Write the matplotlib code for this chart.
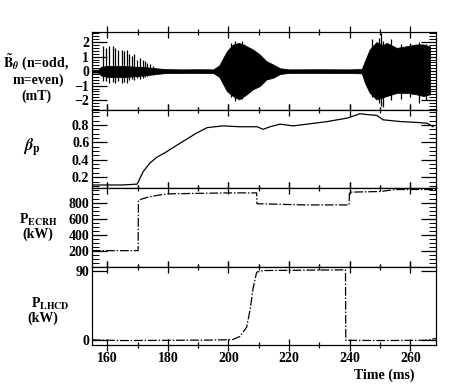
import numpy as np
import matplotlib
matplotlib.use("Agg")
import matplotlib.pyplot as plt
from matplotlib.ticker import MultipleLocator

plt.rcParams['font.family'] = ['Liberation Serif', 'DejaVu Serif']
plt.rcParams['font.weight'] = 'bold'
plt.rcParams['mathtext.fontset'] = 'stix'

# --- B_theta : envelope of the MHD signal (mT)
b_t = [155, 157, 158, 160, 163, 166, 169, 172, 175, 177, 179, 185, 190, 195,
       197, 198, 199.5, 201.5, 203.5, 206, 208, 210.3, 212.5, 214.7, 217, 220,
       230, 240, 244, 245, 246.6, 248.8, 251, 252.2, 255.5, 258.8, 262, 264.3, 266.5]
b_up = [0.1, 0.1, 0.3, 0.35, 0.35, 0.35, 0.3, 0.28, 0.22, 0.18, 0.14, 0.12, 0.13, 0.12,
        0.4, 0.8, 1.38, 1.84, 1.95, 1.72, 1.5, 1.15, 0.69, 0.46, 0.2, 0.12,
        0.13, 0.12, 0.15, 0.69, 1.5, 2.0, 1.8, 1.95, 1.6, 1.72, 1.84, 1.84, 1.7]
b_lo = [-0.1, -0.1, -0.3, -0.4, -0.4, -0.4, -0.35, -0.3, -0.22, -0.18, -0.14, -0.12, -0.12, -0.13,
        -0.4, -0.8, -1.38, -1.72, -1.95, -1.6, -1.26, -1.03, -0.57, -0.46, -0.2, -0.12,
        -0.12, -0.13, -0.15, -0.8, -1.5, -1.95, -1.8, -1.72, -1.5, -1.5, -1.6, -1.72, -1.6]
# isolated spikes (time, top, bottom)
spk_t = [158.5, 159.6, 160.7, 161.8, 162.6, 163.7, 164.8, 165.7, 166.4, 167.3,
         168.1, 168.9, 169.8, 170.8, 171.7, 172.5, 173.2, 174.1, 175.2,
         201.0, 202.2, 204.4, 205.2, 247.5, 249.5, 250.2, 251.0, 253.5, 257.0, 260.0, 263.0, 265.0]
spk_top = [1.72, 1.61, 1.72, 1.72, 1.6, 1.49, 1.45, 1.38, 1.49, 1.15,
           1.03, 1.15, 0.8, 0.92, 0.8, 0.69, 0.57, 0.46, 0.34,
           1.95, 2.05, 2.1, 1.85, 2.2, 2.3, 2.65, 2.1, 2.2, 1.9, 1.95, 2.0, 1.9]
spk_bot = [-0.69, -0.7, -0.8, -0.75, -0.8, -0.7, -0.8, -0.75, -0.8, -0.6,
           -0.57, -0.6, -0.5, -0.57, -0.45, -0.4, -0.34, -0.3, -0.25,
           -1.8, -2.05, -1.9, -1.7, -1.8, -2.2, -2.4, -2.45, -2.0, -1.9, -1.8, -2.2, -2.0]

# --- beta_p
bp_t = [155, 160, 165, 169.9, 171.8, 174, 176.4, 179, 184, 189.6, 193, 198.2, 203.8,
        209.5, 211.4, 213.7, 217, 221.3, 226, 232.6, 239.2, 243.4, 245.8, 249, 251,
        256.6, 262, 265.6, 267.5]
bp = [0.11, 0.11, 0.11, 0.12, 0.26, 0.36, 0.43, 0.48, 0.59, 0.71, 0.77, 0.79, 0.78,
      0.78, 0.75, 0.78, 0.81, 0.79, 0.81, 0.84, 0.88, 0.93, 0.92, 0.91, 0.86,
      0.84, 0.83, 0.82, 0.78]

# --- ECRH power (kW)
ec_t = [155, 170.2, 170.3, 171.5, 173.5, 176.4, 180, 200, 209.3, 209.4, 225, 239.8, 239.9, 250, 255, 268.5]
ec = [200, 200, 825, 845, 866, 888, 908, 920, 920, 785, 770, 770, 929, 937, 962, 962]

# --- LHCD power (kW)
lh_t = [155, 165, 180, 195, 201.5, 203.8, 206, 207.1, 208.2, 209.3, 211.4, 225, 238.6, 238.7, 250, 265, 268.5]
lh = [0, -0.8, -0.5, -0.2, 0.5, 4.6, 16.5, 38.6, 68.6, 87.9, 90, 90.5, 90.9, -0.5, -0.8, -0.5, 2]

fig, axes = plt.subplots(4, 1, sharex=True, figsize=(4.72, 3.88), dpi=100,
                         gridspec_kw=dict(hspace=0, left=0.195, right=0.924,
                                          top=0.9175, bottom=0.111))
a1, a2, a3, a4 = axes

a1.fill_between(b_t, b_lo, b_up, color='k', lw=0.6)
a1.vlines(spk_t, spk_bot, spk_top, color='k', lw=0.9)
a1.set_ylim(-2.7, 2.7)
a1.yaxis.set_major_locator(MultipleLocator(1))
a1.yaxis.set_minor_locator(MultipleLocator(0.2))

a2.plot(bp_t, bp, color='k', lw=0.9)
a2.set_ylim(0.07, 0.97)
a2.set_yticks([0.2, 0.4, 0.6, 0.8])
a2.yaxis.set_minor_locator(MultipleLocator(0.05))

dash = (0, (7, 1.5, 1.2, 1.5))
a3.plot(ec_t, ec, color='k', lw=0.9, linestyle=dash)
a3.set_ylim(0, 975)
a3.set_yticks([200, 400, 600, 800])
a3.yaxis.set_minor_locator(MultipleLocator(50))

a4.plot(lh_t, lh, color='k', lw=0.9, linestyle=dash)
a4.set_ylim(-6.5, 95)
a4.set_yticks([0, 90])

a4.set_xlim(155, 268.5)
a4.xaxis.set_major_locator(MultipleLocator(20))
a4.xaxis.set_minor_locator(MultipleLocator(10))
for ax in axes:
    for s in ax.spines.values():
        s.set_linewidth(0.9)
    ax.tick_params(axis='x', which='both', direction='inout', top=True, bottom=True,
                   labelbottom=False)
    ax.tick_params(axis='x', which='major', length=8, width=0.9)
    ax.tick_params(axis='x', which='minor', length=5, width=0.9)
    ax.tick_params(axis='y', which='both', direction='in', left=True, right=True,
                   labelsize=10, pad=2)
    ax.tick_params(axis='y', which='major', length=11, width=0.9)
    ax.tick_params(axis='y', which='minor', length=5, width=0.7)
a4.tick_params(axis='x', labelbottom=True, labelsize=10, pad=1)

def ftxt(x, y, s, size=10):
    fig.text(x / 472, 1 - y / 388, s, ha='center', va='center', fontsize=size,
             fontweight='bold')

ftxt(36, 63, r'$\tilde{\mathbf{B}}_\theta$ (n=odd,')
ftxt(38, 80, 'm=even)')
ftxt(36, 96, '(mT)')
ftxt(32, 148, r'$\beta_\mathrm{p}$', 12)
ftxt(38, 220, r'P$_\mathrm{ECRH}$')
ftxt(38, 234, '(kW)')
ftxt(50, 304, r'P$_\mathrm{LHCD}$')
ftxt(43, 318, '(kW)')
ftxt(384, 375, 'Time (ms)')

fig.savefig('out.png', dpi=100)
